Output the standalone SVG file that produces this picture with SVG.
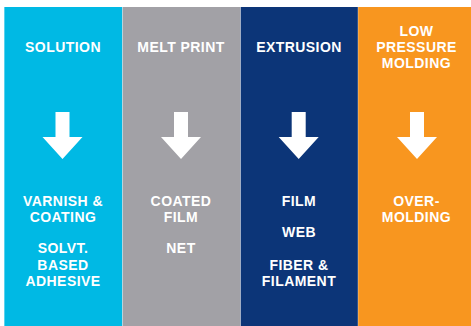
<svg xmlns="http://www.w3.org/2000/svg" xmlns:xlink="http://www.w3.org/1999/xlink" width="471" height="326" viewBox="0 0 471 326">
<style>
text{font-family:"Liberation Sans",Arial,sans-serif;font-weight:bold;font-size:14px;fill:#fff;text-anchor:middle;letter-spacing:0.45px}
.sep{stroke:#ffffff;stroke-opacity:0.35;stroke-width:1}
.arrow{fill:#fff}
</style>
<defs>
<path id="arr" d="M-7,0 H7 V25 H20 L0,47 L-20,25 H-7 Z"/>
</defs>
<rect width="471" height="326" fill="#fff"/>
<g id="solution">
<rect x="4" y="7" width="118.5" height="319" fill="#00B9E4"/>
<text x="63" y="52">SOLUTION</text>
<text x="63" y="205.7">VARNISH &amp;</text>
<text x="63" y="221.7">COATING</text>
<text x="63" y="253.3">SOLVT.</text>
<text x="63" y="269.5">BASED</text>
<text x="63" y="285.7">ADHESIVE</text>
</g>
<g id="melt-print">
<rect x="122.5" y="7" width="118" height="319" fill="#A2A1A6"/>
<text x="181" y="52">MELT PRINT</text>
<text x="181" y="205.7">COATED</text>
<text x="181" y="221.7">FILM</text>
<text x="181" y="253.3">NET</text>
</g>
<g id="extrusion">
<rect x="240.5" y="7" width="117.5" height="319" fill="#0C3578"/>
<text x="299" y="52">EXTRUSION</text>
<text x="299" y="205.7">FILM</text>
<text x="299" y="237.3">WEB</text>
<text x="299" y="269.5">FIBER &amp;</text>
<text x="299" y="285.7">FILAMENT</text>
</g>
<g id="low-pressure-molding">
<rect x="358" y="7" width="113" height="319" fill="#F8961F"/>
<text x="416.5" y="35.8">LOW</text>
<text x="416.5" y="52">PRESSURE</text>
<text x="416.5" y="67.8">MOLDING</text>
<text x="416.5" y="205.7">OVER-</text>
<text x="416.5" y="221.7">MOLDING</text>
</g>
<g id="separators">
<line class="sep" x1="4.5" y1="7" x2="4.5" y2="326"/>
<line class="sep" x1="122.5" y1="7" x2="122.5" y2="326"/>
<line class="sep" x1="240.5" y1="7" x2="240.5" y2="326"/>
<line class="sep" x1="358" y1="7" x2="358" y2="326"/>
</g>
<g id="connectors" class="arrow">
<use xlink:href="#arr" x="62.5" y="112"/>
<use xlink:href="#arr" x="181" y="112"/>
<use xlink:href="#arr" x="298.7" y="112"/>
<use xlink:href="#arr" x="417" y="112"/>
</g>
</svg>
